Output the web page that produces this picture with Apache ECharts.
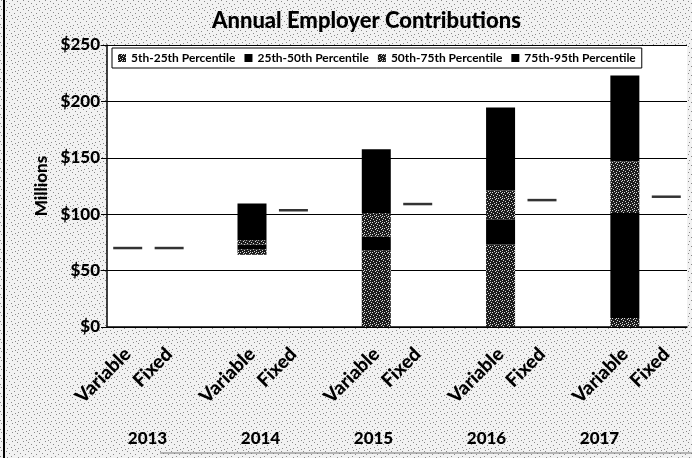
<!DOCTYPE html>
<html>
<head>
<meta charset="utf-8">
<script src="https://cdn.jsdelivr.net/npm/echarts@6/dist/echarts.min.js"></script>
<style>
html,body{margin:0;padding:0;background:#fff;}
#chart{width:692px;height:458px;}
</style>
</head>
<body>
<div id="chart"></div>
<script>
// data, $ millions
var years = ['2013', '2014', '2015', '2016', '2017'];
var slotNames = ['Variable', 'Fixed'];
var p5  = [70, 64, 0, 0, 0];
var p25 = [70, 69, 68, 73, 8];
var p50 = [70, 73, 80, 95.5, 101];
var p75 = [70, 77, 101, 121, 147];
var p95 = [70, 109.5, 157.5, 194.5, 223];
var fixed = [70, 103.5, 109, 112.5, 115.5];
var legendNames = ['5th-25th Percentile', '25th-50th Percentile', '50th-75th Percentile', '75th-95th Percentile'];

var FONT = 'Lato';

// small tiled canvas used as a fill (scan look)
var makePattern = function(w, h, bg, fg, dots){
  var c = document.createElement('canvas');
  c.width = w; c.height = h;
  var ctx = c.getContext('2d');
  ctx.fillStyle = bg;
  ctx.fillRect(0, 0, w, h);
  ctx.fillStyle = fg;
  dots.forEach(function(d){ ctx.fillRect(d[0], d[1], 1, 1); });
  return {image: c, repeat: 'repeat'};
}

var stipple = makePattern(6, 6, '#1c1c1c', '#d8d8d8',
  [[0,0],[3,1],[1,3],[4,4],[2,5],[5,2],[4,0]]);
var paper = makePattern(11, 9, '#f2f2f2', '#8a8a8a',
  [[1,0],[6,1],[9,3],[3,4],[0,6],[7,7],[4,8]]);

// category slots: Variable, Fixed, gap, ...
var cats = [], yearOf = [], kindOf = [];
years.forEach(function(y, i){
  cats.push(slotNames[0]); yearOf.push(i); kindOf.push('V');
  cats.push(slotNames[1]); yearOf.push(i); kindOf.push('F');
  if(i < years.length - 1){ cats.push(''); yearOf.push(i); kindOf.push('-'); }
});

var variableCol = function(lo, hi){
  return cats.map(function(c, k){
    var i = yearOf[k];
    if(kindOf[k] !== 'V') return '-';
    return +(hi[i] - (lo ? lo[i] : 0)).toFixed(2);
  });
}

var markers = [];
cats.forEach(function(c, k){
  var i = yearOf[k];
  if(kindOf[k] === 'F') markers.push([k, fixed[i]]);
  if(kindOf[k] === 'V' && p95[i] - p5[i] < 1) markers.push([k, p5[i]]);
});

var fills = [stipple, '#000', stipple, '#000'];
var bands = [[p5, p25], [p25, p50], [p50, p75], [p75, p95]];

var series = [{
  name: 'base', type: 'bar', stack: 'v', barWidth: 29,
  itemStyle: {color: 'transparent'}, silent: true,
  data: variableCol(null, p5)
}];
bands.forEach(function(b, j){
  series.push({
    name: legendNames[j], type: 'bar', stack: 'v', barWidth: 29,
    itemStyle: {color: fills[j]},
    data: variableCol(b[0], b[1])
  });
});
series.push({
  name: 'Fixed', type: 'scatter', symbol: 'rect', symbolSize: [29, 2.5],
  itemStyle: {color: '#000'}, z: 5, data: markers
});
series.push({
  type: 'bar', xAxisIndex: 1, yAxisIndex: 1, data: years.map(function(){ return '-'; })
});

var bold = {fontFamily: FONT, fontWeight: 900, color: '#000'};

var chart = echarts.init(document.getElementById('chart'));
chart.setOption({
  backgroundColor: paper,
  animation: false,
  title: {
    text: 'Annual Employer Contributions', left: 207, top: 5,
    textStyle: Object.assign({fontSize: 22}, bold)
  },
  legend: {
    data: legendNames, left: 112, top: 48,
    icon: 'rect', itemWidth: 8, itemHeight: 8, itemGap: 9,
    padding: [4, 6], borderColor: '#000', borderWidth: 1, backgroundColor: '#fff',
    textStyle: {fontFamily: FONT, fontSize: 12, fontWeight: 'bold', color: '#000'}
  },
  grid: [
    {left: 107, right: 5, top: 45, bottom: 131, show: true, backgroundColor: '#fff', borderWidth: 0},
    {left: 91, right: 36, top: 300, bottom: 30, show: false}
  ],
  xAxis: [{
    type: 'category', data: cats,
    axisLine: {lineStyle: {color: '#000', width: 1.5}},
    axisTick: {show: false},
    axisLabel: Object.assign({interval: 0, rotate: 45, margin: 24, fontSize: 19}, bold)
  }, {
    type: 'category', gridIndex: 1, data: years,
    axisLine: {show: false}, axisTick: {show: false},
    axisLabel: Object.assign({margin: 2, fontSize: 17}, bold)
  }],
  yAxis: [{
    type: 'value', min: 0, max: 250, interval: 50,
    name: 'Millions', nameLocation: 'middle', nameGap: 49,
    nameTextStyle: Object.assign({fontSize: 17}, bold),
    axisLine: {show: true, lineStyle: {color: '#000', width: 1.5}},
    axisTick: {show: true, length: 6, lineStyle: {color: '#000'}},
    splitLine: {lineStyle: {color: '#000', width: 1}},
    axisLabel: Object.assign({margin: 7, fontSize: 17,
      formatter: function(v){ return '$' + v; }}, bold)
  }, {
    type: 'value', gridIndex: 1, show: false
  }],
  graphic: [
    {type: 'line', shape: {x1: 4, y1: 0, x2: 4, y2: 458}, style: {stroke: '#000', lineWidth: 2}},
    {type: 'line', shape: {x1: 160, y1: 453, x2: 692, y2: 453}, style: {stroke: '#777', lineWidth: 1}}
  ],
  series: series
});
</script>
</body>
</html>
